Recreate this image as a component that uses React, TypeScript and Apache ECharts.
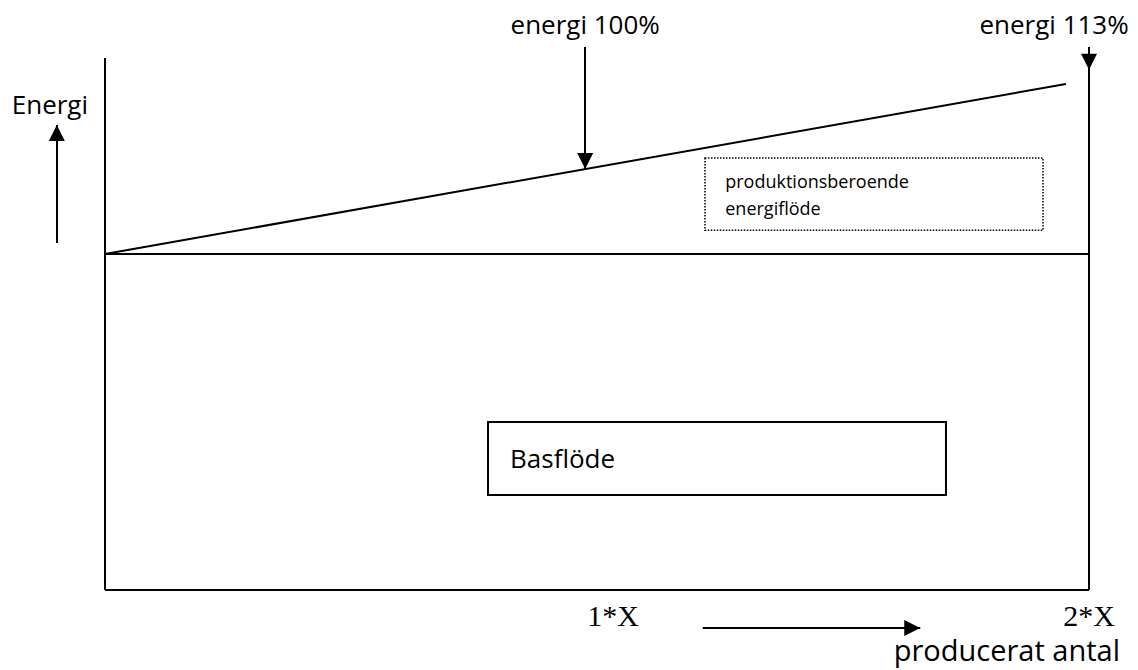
import React, { useEffect, useRef } from "react";
import * as echarts from "echarts";

// ---- chart values ----
const xTickValues = [1, 2];
const xTickLabels = ["1*X", "2*X"];
// base flow: constant energy level
const baseFlow = [
  [0, 100],
  [2, 100],
];
// total energy: base + production-dependent flow
const totalEnergy = [
  [0, 100],
  [1.953, 150.6],
];
// frame lines
const leftAxis = [
  [0, 0],
  [0, 158.3],
];
const bottomAxis = [
  [0, 0],
  [2, 0],
];
const rightAxis = [
  [2, 0],
  [2, 161.6],
];
// arrows [from, to]
const arrow100 = [
  [0.976, 161.6],
  [0.976, 125.3],
];
const arrow113 = [
  [2, 161.6],
  [2, 154.8],
];
const energyArrow = [
  [-0.098, 103.3],
  [-0.098, 138.4],
];
const quantityArrow = [
  [1.215, -11.3],
  [1.657, -11.3],
];
// text annotations
const annotationNames = ["Energi", "energi 100%", "energi 113%", "producerat antal"];
const annotationCoords = [
  [-0.112, 144.6],
  [0.976, 168.5],
  [1.929, 168.5],
  [1.833, -17.56],
];
const annotationSizes = [26, 26, 26, 29];
// boxes
const boxNames = ["produktionsberoende\nenergiflöde", "Basflöde"];
const productionBox = [
  [1.2195, 128.6],
  [1.9065, 107.1],
];
const baseBox = [
  [0.7785, 50],
  [1.7093, 28.3],
];

const X_MIN = -0.21341;
const X_MAX = 2.09959;
const Y_MIN = -23.81;
const Y_MAX = 175.595;

const FONT = "'Open Sans', 'Noto Sans', sans-serif";
const SERIF = "'Liberation Serif', 'DejaVu Serif', serif";

const lineSeg = (seg: number[][]) => [{ coord: seg[0] }, { coord: seg[1] }];

export default function App() {
  const ref = useRef<HTMLDivElement>(null);
  useEffect(() => {
    if (!ref.current) return;
    const chart = echarts.init(ref.current, undefined, { renderer: "svg" });
    const option: any = {
      animation: false,
      backgroundColor: "#ffffff",
      grid: { left: 0, right: 0, top: 0, bottom: 0, containLabel: false, outerBoundsMode: "none" },
      xAxis: {
        type: "value",
        min: X_MIN,
        max: X_MAX,
        offset: -80,
        axisLine: { show: false, onZero: false },
        axisTick: { show: false },
        splitLine: { show: false },
        axisLabel: {
          show: true,
          customValues: xTickValues,
          margin: 10,
          color: "#000",
          fontFamily: SERIF,
          fontSize: 30,
          formatter: (v: number) => {
            const i = xTickValues.indexOf(v);
            if (i < 0) return "";
            return i === 0 ? "{one|" + xTickLabels[i] + "}" : "{two|" + xTickLabels[i] + "}";
          },
          rich: {
            one: { fontFamily: SERIF, fontSize: 30, color: "#000", padding: [0, 0, 0, 32] },
            two: { fontFamily: SERIF, fontSize: 30, color: "#000" },
          },
        },
      },
      yAxis: {
        type: "value",
        min: Y_MIN,
        max: Y_MAX,
        axisLine: { show: false },
        axisTick: { show: false },
        axisLabel: { show: false },
        splitLine: { show: false },
      },
      series: [
        {
          name: "Basflöde",
          type: "line",
          data: baseFlow,
          showSymbol: false,
          symbol: "none",
          silent: true,
          lineStyle: { color: "#000", width: 2 },
          markArea: {
            silent: true,
            data: [
              [
                {
                  coord: baseBox[0],
                  name: boxNames[1],
                  itemStyle: { color: "rgba(0,0,0,0)", borderColor: "#000", borderWidth: 2 },
                  label: {
                    show: true,
                    position: "insideLeft",
                    distance: 23,
                    color: "#000",
                    fontFamily: FONT,
                    fontSize: 26,
                    padding: [0, 0, 7, 0],
                  },
                },
                { coord: baseBox[1] },
              ],
              [
                {
                  coord: productionBox[0],
                  name: boxNames[0],
                  itemStyle: {
                    color: "rgba(0,0,0,0)",
                    borderColor: "#000",
                    borderWidth: 1.5,
                    borderType: "dotted",
                  },
                  label: {
                    show: true,
                    position: "insideLeft",
                    distance: 21,
                    color: "#000",
                    fontFamily: FONT,
                    fontSize: 18,
                    lineHeight: 27,
                    padding: [12, 0, 0, 0],
                  },
                },
                { coord: productionBox[1] },
              ],
            ],
          },
        },
        {
          name: "energi",
          type: "line",
          data: totalEnergy,
          showSymbol: false,
          symbol: "none",
          silent: true,
          lineStyle: { color: "#000", width: 2 },
          markPoint: {
            silent: true,
            symbol: "circle",
            symbolSize: 1,
            itemStyle: { color: "rgba(0,0,0,0)" },
            data: annotationNames.map((n, i) => ({
              name: n,
              coord: annotationCoords[i],
              label: {
                show: true,
                position: "inside",
                formatter: "{b}",
                color: "#000",
                fontFamily: FONT,
                fontSize: annotationSizes[i],
              },
            })),
          },
        },
        {
          name: "frame",
          type: "line",
          data: [],
          silent: true,
          markLine: {
            silent: true,
            symbol: ["none", "none"],
            label: { show: false },
            lineStyle: { color: "#000", width: 2, type: "solid" },
            emphasis: { disabled: true },
            data: [lineSeg(leftAxis), lineSeg(bottomAxis), lineSeg(rightAxis)],
          },
        },
        {
          name: "arrows",
          type: "line",
          data: [],
          silent: true,
          markLine: {
            silent: true,
            symbol: ["none", "triangle"],
            symbolSize: [16, 16],
            symbolOffset: [0, [0, "50%"]],
            label: { show: false },
            lineStyle: { color: "#000", width: 2, type: "solid" },
            itemStyle: { color: "#000" },
            emphasis: { disabled: true },
            data: [lineSeg(arrow100), lineSeg(arrow113), lineSeg(energyArrow), lineSeg(quantityArrow)],
          },
        },
      ],
    };
    chart.setOption(option);
    return () => chart.dispose();
  }, []);
  return (
    <div
      ref={ref}
      style={{ position: "absolute", left: 0, top: 0, width: 1138, height: 670, background: "#fff" }}
    />
  );
}
